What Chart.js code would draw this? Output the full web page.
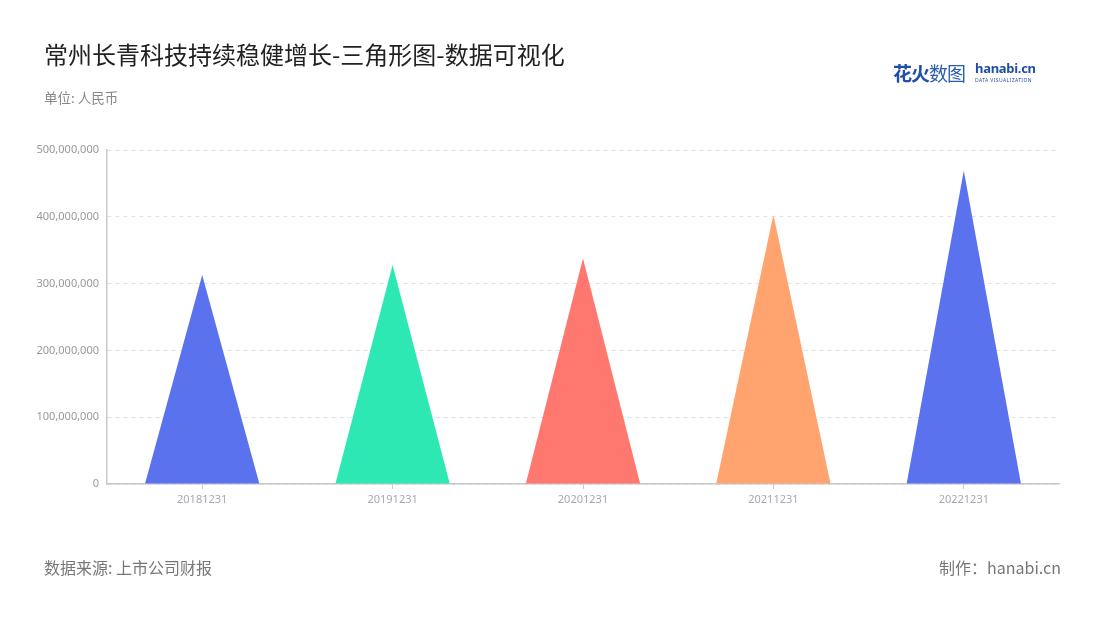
<!DOCTYPE html>
<html>
<head>
<meta charset="utf-8">
<script src="https://cdn.jsdelivr.net/npm/chart.js@4"></script>
<style>
  body { margin: 0; background: #fff; font-family: "Noto Sans CJK SC", "Noto Sans", sans-serif; }
  #wrap { position: relative; width: 1100px; height: 620px; overflow: hidden; }
  #chart { position: absolute; left: 0; top: 0; }
  .txt { position: absolute; white-space: nowrap; }
  #title { left: 44px; top: 36px; font-size: 24px; color: #222; }
  #unit { left: 44px; top: 87px; font-size: 13.5px; color: #888; }
  #source { left: 44px; top: 555px; font-size: 16px; color: #777; }
  #maker { right: 39px; top: 555px; font-size: 16px; color: #777; }
  #logo { left: 893px; top: 59px; }
  #logo .cn1 { font-size: 19px; font-weight: bold; color: #1f4fa8; letter-spacing: -1px; }
  #logo .cn2 { font-size: 19px; font-weight: normal; color: #2a5bb5; letter-spacing: -1px; }
  #logo .en { position: absolute; left: 82px; top: 0px; font-size: 13px; font-weight: bold; color: #1f4fa8; font-family: "Noto Sans", sans-serif; letter-spacing: -0.3px; }
  #logo .sub { position: absolute; left: 82px; top: 18px; font-size: 5px; color: #1f4fa8; letter-spacing: 0.4px; font-family: "Noto Sans", sans-serif; }
</style>
</head>
<body>
<div id="wrap">
  <canvas id="chart" width="1100" height="620"></canvas>
  <div class="txt" id="title">常州长青科技持续稳健增长-三角形图-数据可视化</div>
  <div class="txt" id="unit">单位: 人民币</div>
  <div class="txt" id="logo"><span class="cn1">花火</span><span class="cn2">数图</span><span class="en">hanabi.cn</span><span class="sub">DATA VISUALIZATION</span></div>
  <div class="txt" id="source">数据来源: 上市公司财报</div>
  <div class="txt" id="maker">制作：hanabi.cn</div>
</div>
<script>
// 报告期
const periods = ["20181231", "20191231", "20201231", "20211231", "20221231"];
// 数值 (人民币)
const values = [313000000, 328000000, 338000000, 403000000, 469000000];
// 三角形颜色
const colors = ["#5a72ee", "#2de8b3", "#ff7870", "#ffa36f", "#5a72ee"];
// y轴刻度
const yMax = 500000000;
const yStep = 100000000;

// 把柱子画成三角形
const trianglePlugin = {
    id: "triangles",
    afterDatasetsDraw(chart) {
        const ctx = chart.ctx;
        const meta = chart.getDatasetMeta(0);
        meta.data.forEach(function (bar, i) {
            const half = bar.width / 2;
            ctx.save();
            ctx.fillStyle = colors[i];
            ctx.beginPath();
            ctx.moveTo(bar.x - half, bar.base);
            ctx.lineTo(bar.x, bar.y);
            ctx.lineTo(bar.x + half, bar.base);
            ctx.closePath();
            ctx.fill();
            ctx.restore();
        });
    }
};

const ctx = document.getElementById("chart").getContext("2d");
new Chart(ctx, {
    type: "bar",
    data: {
        labels: periods,
        datasets: [{
            data: values,
            backgroundColor: "rgba(0,0,0,0)",
            barPercentage: 0.6,
            categoryPercentage: 1.0
        }]
    },
    options: {
        responsive: false,
        animation: false,
        layout: {
            padding: { left: 0, right: 41, top: 150, bottom: 86 }
        },
        scales: {
            x: {
                afterFit: function (scale) { scale.height = 50; },
                grid: {
                    offset: false,
                    drawOnChartArea: false,
                    color: "#c8c8c8",
                    tickLength: 5
                },
                border: { color: "#c8c8c8", width: 1.5 },
                ticks: {
                    color: "#a4a8b4",
                    padding: 4,
                    font: { size: 11, family: "Noto Sans" }
                }
            },
            y: {
                min: 0,
                max: yMax,
                afterFit: function (scale) { scale.width = 107; },
                ticks: {
                    stepSize: yStep,
                    color: "#999",
                    padding: 8,
                    font: { size: 11, family: "Noto Sans" },
                    callback: function (v) { return v.toLocaleString("en-US"); }
                },
                grid: {
                    color: "#e2e2e2",
                    drawTicks: false
                },
                border: { color: "#c8c8c8", width: 1.5, dash: [4, 4] }
            }
        },
        plugins: {
            legend: { display: false },
            tooltip: { enabled: false }
        }
    },
    plugins: [trianglePlugin]
});
</script>
</body>
</html>
